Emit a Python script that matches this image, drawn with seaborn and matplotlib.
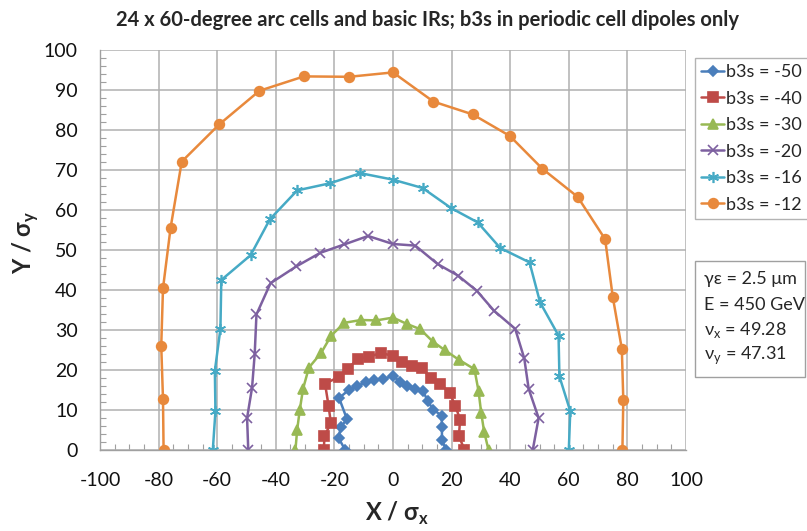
import numpy as np
import pandas as pd
import matplotlib
matplotlib.use("Agg")
import matplotlib.pyplot as plt
import seaborn as sns
from matplotlib.patches import Rectangle

# ---- data ----
series_labels = ["b3s = -50", "b3s = -40", "b3s = -30", "b3s = -20", "b3s = -16", "b3s = -12"]

x_m50 = [-16.3, -18.5, -17.9, -15.7, -18.4, -15.1, -12.3, -9.1, -6.4, -3.3, 0.0, 2.5, 4.7, 7.4, 10.3, 11.8, 13.7, 16.6, 16.7, 16.7, 18.1]
y_m50 = [0.0, 2.9, 5.7, 7.7, 13.0, 15.0, 16.0, 17.0, 17.5, 17.8, 18.5, 17.0, 16.0, 15.3, 14.7, 12.3, 10.1, 8.6, 5.8, 2.6, 0.0]

x_m40 = [-23.6, -23.4, -21.2, -22.0, -23.2, -18.6, -15.4, -12.0, -8.1, -4.1, -0.1, 3.2, 6.6, 10.0, 12.8, 16.2, 19.3, 21.3, 22.9, 22.5, 24.4]
y_m40 = [0.0, 3.5, 6.7, 11.1, 16.6, 18.2, 20.3, 22.8, 23.3, 24.3, 23.5, 21.9, 20.9, 20.5, 17.9, 16.5, 14.3, 11.0, 7.6, 3.5, 0.0]

x_m30 = [-33.3, -32.7, -31.8, -30.7, -28.7, -24.5, -21.1, -16.6, -10.9, -5.7, 0.0, 4.8, 9.3, 13.6, 17.8, 22.4, 27.8, 29.2, 30.1, 31.1, 32.6]
y_m30 = [0.0, 5.1, 10.1, 15.3, 20.6, 24.3, 28.6, 31.8, 32.5, 32.4, 33.1, 31.5, 30.2, 27.1, 24.9, 22.6, 20.2, 14.7, 9.3, 4.6, 0.0]

x_m20 = [-49.4, -49.8, -48.1, -47.2, -46.6, -41.8, -33.0, -24.8, -16.6, -8.5, 0.0, 7.6, 15.2, 22.2, 28.6, 34.5, 41.7, 44.8, 46.3, 49.7, 47.7]
y_m20 = [0.0, 8.0, 15.6, 24.0, 33.9, 41.7, 45.9, 49.3, 51.4, 53.5, 51.5, 51.1, 46.5, 43.6, 39.8, 34.8, 30.3, 22.9, 15.3, 8.0, 0.0]

x_m16 = [-61.5, -60.6, -60.8, -58.9, -58.6, -48.6, -42.0, -32.7, -21.4, -11.1, -0.1, 10.1, 19.8, 28.9, 36.6, 46.6, 50.2, 56.5, 56.8, 60.5, 60.0]
y_m16 = [0.0, 9.7, 19.8, 30.3, 42.5, 48.7, 57.7, 64.9, 66.7, 69.2, 67.6, 65.5, 60.5, 56.9, 50.5, 46.9, 36.9, 28.6, 18.4, 9.7, 0.0]

x_m12 = [-78.3, -78.5, -79.1, -78.5, -75.9, -72.1, -59.3, -45.6, -30.4, -15.0, 0.0, 13.8, 27.2, 39.9, 51.0, 63.0, 72.4, 75.0, 78.1, 78.6, 78.3]
y_m12 = [0.0, 12.7, 26.1, 40.4, 55.6, 72.1, 81.4, 89.8, 93.4, 93.3, 94.4, 87.1, 83.9, 78.5, 70.3, 63.3, 52.7, 38.3, 25.3, 12.5, 0.0]

x_ticks = [-100, -80, -60, -40, -20, 0, 20, 40, 60, 80, 100]
y_ticks = [0, 10, 20, 30, 40, 50, 60, 70, 80, 90, 100]

title = "24 x 60-degree arc cells and basic IRs; b3s in periodic cell dipoles only"
info_lines = ["γε = 2.5 μm", "E = 450 GeV", "ν$_\\mathregular{x}$ = 49.28", "ν$_\\mathregular{y}$ = 47.31"]

# ---- build table ----
xs = [x_m50, x_m40, x_m30, x_m20, x_m16, x_m12]
ys = [y_m50, y_m40, y_m30, y_m20, y_m16, y_m12]
frames = []
for lab, xv, yv in zip(series_labels, xs, ys):
    frames.append(pd.DataFrame({"x": xv, "y": yv, "series": lab}))
df = pd.concat(frames, ignore_index=True)

colors = ["#4A7EBB", "#BE4B48", "#98B954", "#7D60A0", "#46AAC5", "#E8893C"]
markers = ["D", "s", "^", "x", (6, 2, 0), "o"]
msizes = [5.5, 6.5, 7, 7, 8, 7]

sns.set_theme(style="white")
plt.rcParams["font.family"] = ["Lato", "DejaVu Sans"]
plt.rcParams["mathtext.fontset"] = "custom"
plt.rcParams["mathtext.rm"] = "Lato"

fig = plt.figure(figsize=(8.07, 5.31), dpi=100)
ax = fig.add_axes([100 / 807, 1 - 450 / 531, 586 / 807, 400 / 531])

for lab, col, mk, ms in zip(series_labels, colors, markers, msizes):
    sub = df[df["series"] == lab]
    sns.lineplot(data=sub, x="x", y="y", sort=False, estimator=None, ax=ax,
                 color=col, marker=mk, markersize=ms, linewidth=1.8,
                 markeredgecolor=col, markeredgewidth=1.2, label=lab, legend=False)

ax.set_xlim(-100, 100)
ax.set_ylim(0, 100)
ax.set_xticks(x_ticks)
ax.set_yticks(y_ticks)
ax.set_xticklabels([str(t) for t in x_ticks])
ax.set_yticklabels([str(t) for t in y_ticks])
ax.set_xticks(np.arange(-100, 101, 5), minor=True)
ax.set_yticks(np.arange(0, 101, 2), minor=True)
ax.grid(True, which="major", color="#B0B0B0", linewidth=1.1)
ax.set_axisbelow(True)
ax.tick_params(axis="both", which="major", length=0, pad=16, labelsize=14, colors="#111111")
ax.tick_params(axis="x", which="minor", direction="in", length=4, width=0.8, color="#A0A0A0", bottom=True)
ax.tick_params(axis="y", which="minor", direction="in", length=4, width=0.8, color="#A0A0A0", left=True)
for s in ["top", "right"]:
    ax.spines[s].set_visible(False)
for s in ["left", "bottom"]:
    ax.spines[s].set_color("#A0A0A0")
    ax.spines[s].set_linewidth(1.0)

ax.set_xlabel("X / σ$_\\mathregular{x}$", fontsize=17, fontweight="bold")
ax.set_ylabel("Y / σ$_\\mathregular{y}$", fontsize=17, fontweight="bold")
ax.xaxis.set_label_coords(0.507, -0.125)
ax.yaxis.set_label_coords(-0.1, 0.52)

fig.text(428 / 807, 1 - 20 / 531, title, ha="center", va="center", fontsize=14.5, fontweight="bold")

# legend
handles, labels = ax.get_legend_handles_labels()
leg = fig.legend(handles, labels, loc="upper left", bbox_to_anchor=(695 / 807, 1 - 58 / 531),
                 frameon=True, fancybox=False, edgecolor="#A0A0A0", fontsize=13,
                 handlelength=1.25, handletextpad=0.12, labelspacing=0.58, borderpad=0.35,
                 borderaxespad=0)
leg.get_frame().set_linewidth(1.0)

# info box
fig.patches.append(Rectangle((695 / 807, 1 - 377 / 531), 110 / 807, 116 / 531,
                             transform=fig.transFigure, fill=False, edgecolor="#A0A0A0", linewidth=1.0))
for i, line in enumerate(info_lines):
    fig.text(704 / 807, 1 - (279 + i * 25.5) / 531, line, ha="left", va="center", fontsize=13)

fig.savefig("out.png", dpi=100)
